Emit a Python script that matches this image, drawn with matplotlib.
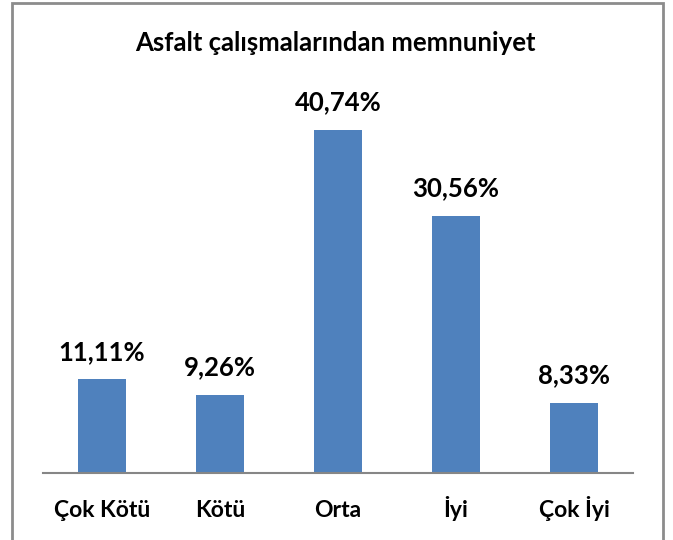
import matplotlib
matplotlib.use("Agg")
import matplotlib.pyplot as plt
from matplotlib.patches import Rectangle

categories = ["Çok Kötü", "Kötü", "Orta", "İyi", "Çok İyi"]
values = [11.11, 9.26, 40.74, 30.56, 8.33]
labels = ["11,11%", "9,26%", "40,74%", "30,56%", "8,33%"]
title = "Asfalt çalışmalarından memnuniyet"

plt.rcParams['font.family'] = ['Lato', 'DejaVu Sans']

fig = plt.figure(figsize=(6.73, 5.4), dpi=100)
ax = fig.add_axes([43 / 673, 67 / 540, 590 / 673, 379 / 540])

# outer chart frame (bottom cut off in the original)
fig.patches.append(Rectangle((12 / 673, -0.01), 651 / 673, 1.0 - 3 / 540 + 0.01,
                             transform=fig.transFigure, fill=False,
                             edgecolor="#8c8c8c", linewidth=2))

x = range(len(categories))
ax.bar(x, values, width=0.4, color="#4f81bd")
ax.set_xlim(-0.5, 4.5)
ax.set_ylim(0, 45)

for xi, v, lab in zip(x, values, labels):
    ax.annotate(lab, (xi, v), xytext=(0, 14), textcoords="offset points",
                ha="center", va="baseline", fontsize=18.5, fontweight="bold")

ax.set_xticks(list(x))
ax.set_xticklabels(categories, fontsize=16.5, fontweight="bold")
for t in ax.get_xticklabels():
    t.set_va("baseline")
ax.tick_params(axis="x", length=0, pad=32)
ax.set_yticks([])
for s in ["top", "right", "left"]:
    ax.spines[s].set_visible(False)
ax.spines["bottom"].set_color("#868686")
ax.spines["bottom"].set_linewidth(1.5)

fig.text(335 / 673, 1 - 51 / 540, title, ha="center", va="baseline",
         fontsize=18.5, fontweight="bold")

fig.savefig("out.png", dpi=100)
